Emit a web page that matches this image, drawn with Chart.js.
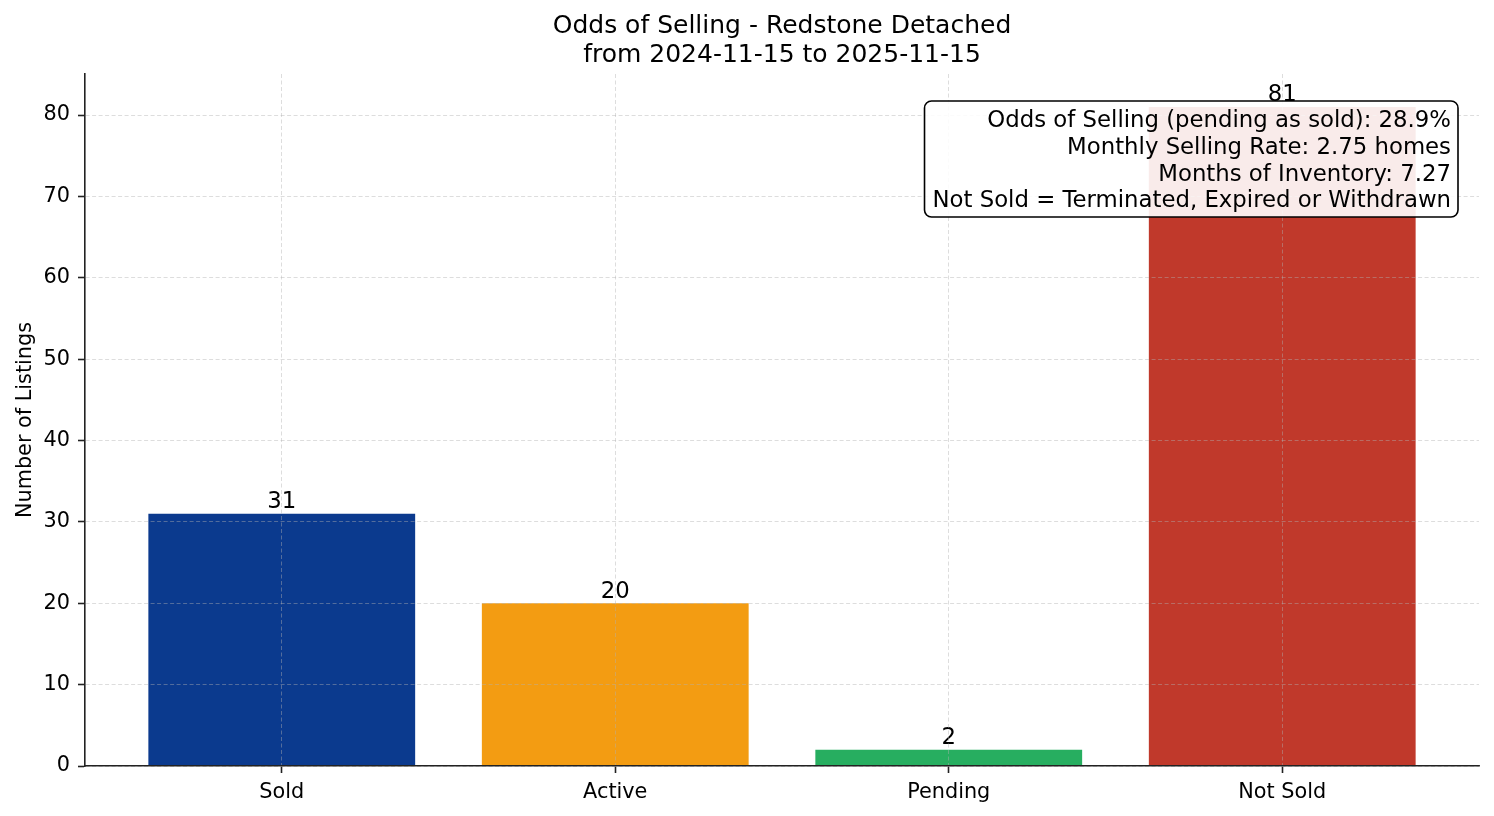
<!DOCTYPE html>
<html>
<head>
<meta charset="utf-8">
<title>Odds of Selling - Redstone Detached</title>
<script src="https://cdn.jsdelivr.net/npm/chart.js@4.4.1/dist/chart.umd.min.js"></script>
<style>
    html, body { margin: 0; padding: 0; background: #fff; }
    #wrap { width: 1494px; height: 816px; }
</style>
</head>
<body>
<div id="wrap"><canvas id="odds_chart"></canvas></div>
<script>
var categories = ['Sold', 'Active', 'Pending', 'Not Sold']
var listingCounts = [31, 20, 2, 81]
var barColors = ['#0b3a8e', '#f39c12', '#27ae60', '#c0392b']
var yTicks = [0, 10, 20, 30, 40, 50, 60, 70, 80]
var titleLines = ['Odds of Selling - Redstone Detached', 'from 2024-11-15 to 2025-11-15']
var statLines = [
    'Odds of Selling (pending as sold): 28.9%',
    'Monthly Selling Rate: 2.75 homes',
    'Months of Inventory: 7.27',
    'Not Sold = Terminated, Expired or Withdrawn'
]

var fontName = "'DejaVu Sans', sans-serif"
var gridColor = 'rgba(176, 176, 176, 0.55)'
var axisColor = '#222'

// two-line title, centred over the plot area like matplotlib does
var titlePlugin = {
    id: 'titleText',
    afterDraw(chart) {
        var ctx = chart.ctx
        var area = chart.chartArea
        var cx = (area.left + area.right) / 2
        ctx.save()
        ctx.font = '25px ' + fontName
        ctx.fillStyle = '#000'
        ctx.textAlign = 'center'
        ctx.textBaseline = 'alphabetic'
        titleLines.forEach((line, i) => ctx.fillText(line, cx, 33.3 + i * 28.4))
        ctx.restore()
    }
}

// counts above each bar
var valueLabels = {
    id: 'valueLabels',
    afterDatasetsDraw(chart) {
        var ctx = chart.ctx
        ctx.save()
        ctx.font = '22.8px ' + fontName
        ctx.fillStyle = '#000'
        ctx.textAlign = 'center'
        ctx.textBaseline = 'alphabetic'
        chart.getDatasetMeta(0).data.forEach((bar, i) => {
            ctx.fillText(String(listingCounts[i]), bar.x, bar.y - 5.5)
        })
        ctx.restore()
    }
}

// stats box in the top right corner
var statsBox = {
    id: 'statsBox',
    afterDraw(chart) {
        var ctx = chart.ctx
        var area = chart.chartArea
        ctx.save()
        ctx.font = '22.8px ' + fontName
        var textW = 0
        statLines.forEach(line => { textW = Math.max(textW, ctx.measureText(line).width) })
        var right = area.right - 21
        var top = area.top + 27
        var w = textW + 15
        var h = 116
        var left = right - w
        var r = 7

        ctx.beginPath()
        ctx.moveTo(left + r, top)
        ctx.arcTo(right, top, right, top + h, r)
        ctx.arcTo(right, top + h, left, top + h, r)
        ctx.arcTo(left, top + h, left, top, r)
        ctx.arcTo(left, top, right, top, r)
        ctx.closePath()
        ctx.fillStyle = 'rgba(255, 255, 255, 0.9)'
        ctx.fill()
        ctx.lineWidth = 1.6
        ctx.strokeStyle = '#000'
        ctx.stroke()

        ctx.fillStyle = '#000'
        ctx.textAlign = 'right'
        ctx.textBaseline = 'alphabetic'
        statLines.forEach((line, i) => ctx.fillText(line, right - 7, top + 26 + i * 26.8))
        ctx.restore()
    }
}

var ctx = document.getElementById('odds_chart').getContext('2d')
var oddsChart = new Chart(ctx, {
    type: 'bar',
    data: {
        datasets: [{
            label: 'Number of Listings',
            data: listingCounts.map((v, i) => ({ x: i, y: v })),
            backgroundColor: barColors,
            borderWidth: 0,
            categoryPercentage: 1,
            barPercentage: 0.8
        }]
    },
    options: {
        responsive: true,
        maintainAspectRatio: false,
        animation: false,
        layout: { padding: { top: 74, right: 15, left: 0, bottom: 0 } },
        plugins: {
            legend: { display: false },
            tooltip: { enabled: false },
            title: { display: false }
        },
        scales: {
            x: {
                type: 'linear',
                min: -0.59,
                max: 3.59,
                offset: false,
                afterBuildTicks: scale => { scale.ticks = categories.map((c, i) => ({ value: i })) },
                afterFit: scale => { scale.height = 50 },
                ticks: {
                    callback: v => categories[v],
                    color: '#000',
                    font: { family: fontName, size: 20.8 },
                    padding: 7.5,
                    maxRotation: 0,
                    autoSkip: false
                },
                grid: {
                    offset: false,
                    color: gridColor,
                    lineWidth: 0.8,
                    z: 1,
                    tickLength: 7,
                    tickWidth: 1.6,
                    tickColor: axisColor
                },
                border: { color: axisColor, width: 1.6, dash: [4, 2.5], z: 2 }
            },
            y: {
                min: 0,
                max: 85.05,
                afterBuildTicks: scale => { scale.ticks = yTicks.map(v => ({ value: v })) },
                afterFit: scale => { scale.width = 85 },
                ticks: {
                    color: '#000',
                    font: { family: fontName, size: 20.8 },
                    padding: 8
                },
                grid: {
                    color: gridColor,
                    lineWidth: 0.8,
                    z: 1,
                    tickLength: 7,
                    tickWidth: 1.6,
                    tickColor: axisColor
                },
                border: { color: axisColor, width: 1.6, dash: [4, 2.5], z: 2 },
                title: {
                    display: true,
                    text: 'Number of Listings',
                    color: '#000',
                    font: { family: fontName, size: 20.8 },
                    padding: { top: 13, bottom: 0 }
                }
            }
        }
    },
    plugins: [valueLabels, statsBox, titlePlugin]
})
</script>
</body>
</html>
